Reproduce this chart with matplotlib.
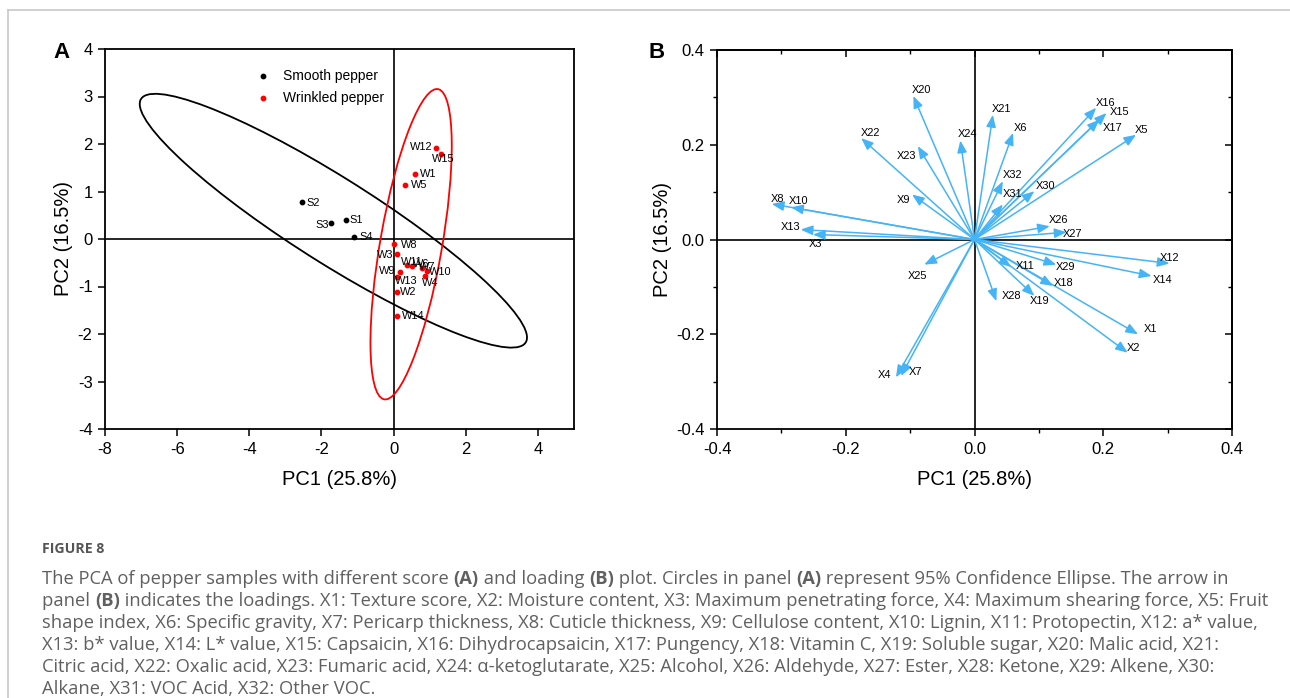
import matplotlib
matplotlib.use("Agg")
import matplotlib.pyplot as plt
from matplotlib.patches import Ellipse
from matplotlib.ticker import MultipleLocator, FormatStrFormatter
from matplotlib.lines import Line2D

plt.rcParams['font.family'] = ['Liberation Sans', 'DejaVu Sans']
plt.rcParams['axes.unicode_minus'] = False

# ---------------- data: panel A (scores) ----------------
smooth_names = ["S1", "S2", "S3", "S4"]
smooth_pc1 = [-1.31, -2.53, -1.73, -1.10]
smooth_pc2 = [0.39, 0.78, 0.33, 0.04]

wrinkled_names = ["W1", "W2", "W3", "W4", "W5", "W6", "W7", "W8", "W9", "W10",
                  "W11", "W12", "W13", "W14", "W15"]
wrinkled_pc1 = [0.59, 0.08, 0.08, 0.86, 0.31, 0.52, 0.80, 0.01, 0.17, 0.92,
                0.36, 1.17, 0.10, 0.08, 1.31]
wrinkled_pc2 = [1.37, -1.12, -0.32, -0.78, 1.14, -0.56, -0.62, -0.11, -0.69, -0.67,
                -0.54, 1.91, -0.80, -1.63, 1.80]

# 95% confidence ellipses: centre x, centre y, semi-major, semi-minor, angle (deg)
smooth_ellipse = [-1.67, 0.385, 5.92, 0.95, -25.3]
wrinkled_ellipse = [0.485, -0.11, 3.35, 0.85, 76.8]

# ---------------- data: panel B (loadings) ----------------
load_names = ["X1", "X2", "X3", "X4", "X5", "X6", "X7", "X8", "X9", "X10",
              "X11", "X12", "X13", "X14", "X15", "X16", "X17", "X18", "X19", "X20",
              "X21", "X22", "X23", "X24", "X25", "X26", "X27", "X28", "X29", "X30",
              "X31", "X32"]
load_pc1 = [0.254, 0.238, -0.251, -0.122, 0.251, 0.060, -0.114, -0.315, -0.097, -0.285,
            0.057, 0.303, -0.270, 0.275, 0.205, 0.189, 0.194, 0.122, 0.093, -0.095,
            0.0285, -0.176, -0.088, -0.022, -0.078, 0.117, 0.143, 0.034, 0.127, 0.093,
            0.044, 0.044]
load_pc2 = [-0.200, -0.239, 0.0105, -0.291, 0.221, 0.225, -0.288, 0.075, 0.095, 0.068,
            -0.058, -0.0506, 0.021, -0.077, 0.267, 0.278, 0.253, -0.098, -0.119, 0.303,
            0.263, 0.214, 0.197, 0.209, -0.053, 0.028, 0.0154, -0.130, -0.053, 0.102,
            0.074, 0.123]

# ---------------- style: label offsets (pixels) ----------------
score_label_off = {
    "S1": (10, 0), "S2": (11, -1), "S3": (-9, -2), "S4": (12, 0),
    "W1": (13, 0), "W2": (12, 0), "W3": (-11, -1), "W4": (6, -7), "W5": (14, 0),
    "W6": (9, 2), "W7": (5, 1), "W8": (15, -1), "W9": (-13, 1), "W10": (13, -1),
    "W11": (5, 3), "W12": (-15, 1), "W13": (9, -4), "W14": (17, 0), "W15": (2, -6),
}
load_label_off = {
    "X1": (12, 5), "X2": (6, 5), "X3": (3, -9), "X4": (-11, 2), "X5": (5, 5),
    "X6": (7, 5), "X7": (14, 4), "X8": (6, 5), "X9": (-9, -6), "X10": (8, 6),
    "X11": (14, 1), "X12": (0, 5), "X13": (-10, 3), "X14": (11, -4), "X15": (13, 1),
    "X16": (9, 5), "X17": (13, -8), "X18": (11, 3), "X19": (5, -5), "X20": (8, 6),
    "X21": (9, 6), "X22": (9, 5), "X23": (-11, -10), "X24": (7, 6), "X25": (-7, -11),
    "X26": (9, 6), "X27": (6, -2), "X28": (15, 5), "X29": (9, -2), "X30": (11, 5),
    "X31": (10, 10), "X32": (10, 6),
}

W, H = 1290, 698
fig = plt.figure(figsize=(W / 100, H / 100), dpi=100)
fig.patch.set_facecolor("white")

# card border (top and left)
fig.add_artist(Line2D([8 / W, 1.0], [1 - 10 / H, 1 - 10 / H], color="#c8c8c8", lw=1.2))
fig.add_artist(Line2D([8 / W, 8 / W], [0, 1 - 10 / H], color="#c8c8c8", lw=1.2))

TICK_FS = 12
LAB_FS = 14.5
SMALL_FS = 7.9
ARROW_C = "#45b4f7"

# ================= Panel A =================
axA = fig.add_axes([105 / W, 1 - 429 / H, 469 / W, 380 / H])
axA.set_xlim(-8, 5)
axA.set_ylim(-4, 4)
axA.set_xticks([-8, -6, -4, -2, 0, 2, 4])
axA.set_yticks([-4, -3, -2, -1, 0, 1, 2, 3, 4])
axA.tick_params(direction="out", length=5, width=1.1, labelsize=TICK_FS,
                top=False, right=False, pad=4)
for s in axA.spines.values():
    s.set_linewidth(1.3)
axA.axhline(0, color="black", lw=1.2, zorder=1)
axA.axvline(0, color="black", lw=1.2, zorder=1)

cx, cy, a, b, ang = smooth_ellipse
axA.add_patch(Ellipse((cx, cy), 2 * a, 2 * b, angle=ang, fill=False,
                      ec="black", lw=1.3, zorder=2))
cx, cy, a, b, ang = wrinkled_ellipse
axA.add_patch(Ellipse((cx, cy), 2 * a, 2 * b, angle=ang, fill=False,
                      ec="#ff0000", lw=1.3, zorder=2))

axA.scatter(smooth_pc1, smooth_pc2, s=10, color="black", zorder=3, label="Smooth pepper")
axA.scatter(wrinkled_pc1, wrinkled_pc2, s=10, color="#ff0000", zorder=3, label="Wrinkled pepper")

for n, x, y in zip(smooth_names, smooth_pc1, smooth_pc2):
    axA.annotate(n, (x, y), xytext=score_label_off[n], textcoords="offset pixels",
                 ha="center", va="center", fontsize=SMALL_FS, zorder=4)
for n, x, y in zip(wrinkled_names, wrinkled_pc1, wrinkled_pc2):
    axA.annotate(n, (x, y), xytext=score_label_off[n], textcoords="offset pixels",
                 ha="center", va="center", fontsize=SMALL_FS, zorder=4)

axA.legend(loc="upper left", bbox_to_anchor=(0.311, 0.962), frameon=False,
           fontsize=10, handletextpad=0.9, labelspacing=0.55, borderaxespad=0,
           handlelength=1.0, markerscale=1.0)

axA.set_xlabel("PC1 (25.8%)", fontsize=LAB_FS, labelpad=10)
axA.set_ylabel("PC2 (16.5%)", fontsize=LAB_FS, labelpad=3)
fig.text(62 / W, 1 - 52 / H, "A", fontsize=16, fontweight="bold", ha="center", va="center")

# ================= Panel B =================
axB = fig.add_axes([717 / W, 1 - 429 / H, 515 / W, 379 / H])
axB.set_xlim(-0.4, 0.4)
axB.set_ylim(-0.4, 0.4)
axB.xaxis.set_major_locator(MultipleLocator(0.2))
axB.yaxis.set_major_locator(MultipleLocator(0.2))
axB.xaxis.set_minor_locator(MultipleLocator(0.1))
axB.yaxis.set_minor_locator(MultipleLocator(0.1))
axB.xaxis.set_major_formatter(FormatStrFormatter("%.1f"))
axB.yaxis.set_major_formatter(FormatStrFormatter("%.1f"))
axB.tick_params(which="major", direction="out", length=5, width=1.1,
                labelsize=TICK_FS, top=False, right=False, pad=4)
axB.tick_params(which="minor", direction="out", length=3, width=1.0,
                top=False, right=False)
for s in axB.spines.values():
    s.set_linewidth(1.3)

for side in ("top", "right"):
    if side == "top":
        sec = axB.secondary_xaxis("top")
        sec.xaxis.set_major_locator(MultipleLocator(0.2))
        sec.xaxis.set_minor_locator(MultipleLocator(0.1))
    else:
        sec = axB.secondary_yaxis("right")
        sec.yaxis.set_major_locator(MultipleLocator(0.2))
        sec.yaxis.set_minor_locator(MultipleLocator(0.1))
    sec.tick_params(which="major", direction="in", length=5, width=1.1,
                    labelleft=False, labelright=False, labeltop=False, labelbottom=False)
    sec.tick_params(which="minor", direction="in", length=3, width=1.0)
    sec.spines[side].set_linewidth(1.3)

axB.axhline(0, color="black", lw=1.2, zorder=1)
axB.axvline(0, color="black", lw=1.2, zorder=1)

for n, x, y in zip(load_names, load_pc1, load_pc2):
    axB.annotate("", xy=(x, y), xytext=(0, 0),
                 arrowprops=dict(arrowstyle="-|>,head_length=0.4,head_width=0.16",
                                 color=ARROW_C, lw=1.1, mutation_scale=18,
                                 shrinkA=0, shrinkB=0), zorder=2)
    axB.annotate(n, (x, y), xytext=load_label_off[n], textcoords="offset pixels",
                 ha="center", va="center", fontsize=SMALL_FS, zorder=4)

axB.set_xlabel("PC1 (25.8%)", fontsize=LAB_FS, labelpad=10)
axB.set_ylabel("PC2 (16.5%)", fontsize=LAB_FS, labelpad=3)
fig.text(657 / W, 1 - 52 / H, "B", fontsize=16, fontweight="bold", ha="center", va="center")

# ================= Caption =================
CAP_C = "#606060"
CAP_FAM = ["Open Sans", "DejaVu Sans"]
CAP_FS = 13.2
fig.text(42 / W, 1 - 549 / H, "FIGURE 8", fontsize=10.2, fontweight="bold",
         color="#555555", family=CAP_FAM, ha="left", va="center")

caption_lines = [
    [("The PCA of pepper samples with different score ", False), ("(A)", True),
     (" and loading ", False), ("(B)", True),
     (" plot. Circles in panel ", False), ("(A)", True),
     (" represent 95% Confidence Ellipse. The arrow in", False)],
    [("panel ", False), ("(B)", True),
     (" indicates the loadings. X1: Texture score, X2: Moisture content, X3: Maximum penetrating force, X4: Maximum shearing force, X5: Fruit", False)],
    [("shape index, X6: Specific gravity, X7: Pericarp thickness, X8: Cuticle thickness, X9: Cellulose content, X10: Lignin, X11: Protopectin, X12: a* value,", False)],
    [("X13: b* value, X14: L* value, X15: Capsaicin, X16: Dihydrocapsaicin, X17: Pungency, X18: Vitamin C, X19: Soluble sugar, X20: Malic acid, X21:", False)],
    [("Citric acid, X22: Oxalic acid, X23: Fumaric acid, X24: \u03b1-ketoglutarate, X25: Alcohol, X26: Aldehyde, X27: Ester, X28: Ketone, X29: Alkene, X30:", False)],
    [("Alkane, X31: VOC Acid, X32: Other VOC.", False)],
]
y0 = 579
for i, segs in enumerate(caption_lines):
    yy = 1 - (y0 + 22 * i) / H
    last = None
    for txt, bold in segs:
        kw = dict(fontsize=CAP_FS, color=CAP_C, family=CAP_FAM,
                  fontweight="bold" if bold else "normal", va="center", ha="left")
        if last is None:
            last = fig.text(42 / W, yy, txt, **kw)
        else:
            last = fig.add_artist(plt.Annotation(txt, xy=(1, 0.5), xycoords=last,
                                                 xytext=(0, 0), textcoords="offset pixels",
                                                 **kw))

fig.savefig("out.png", dpi=100)
